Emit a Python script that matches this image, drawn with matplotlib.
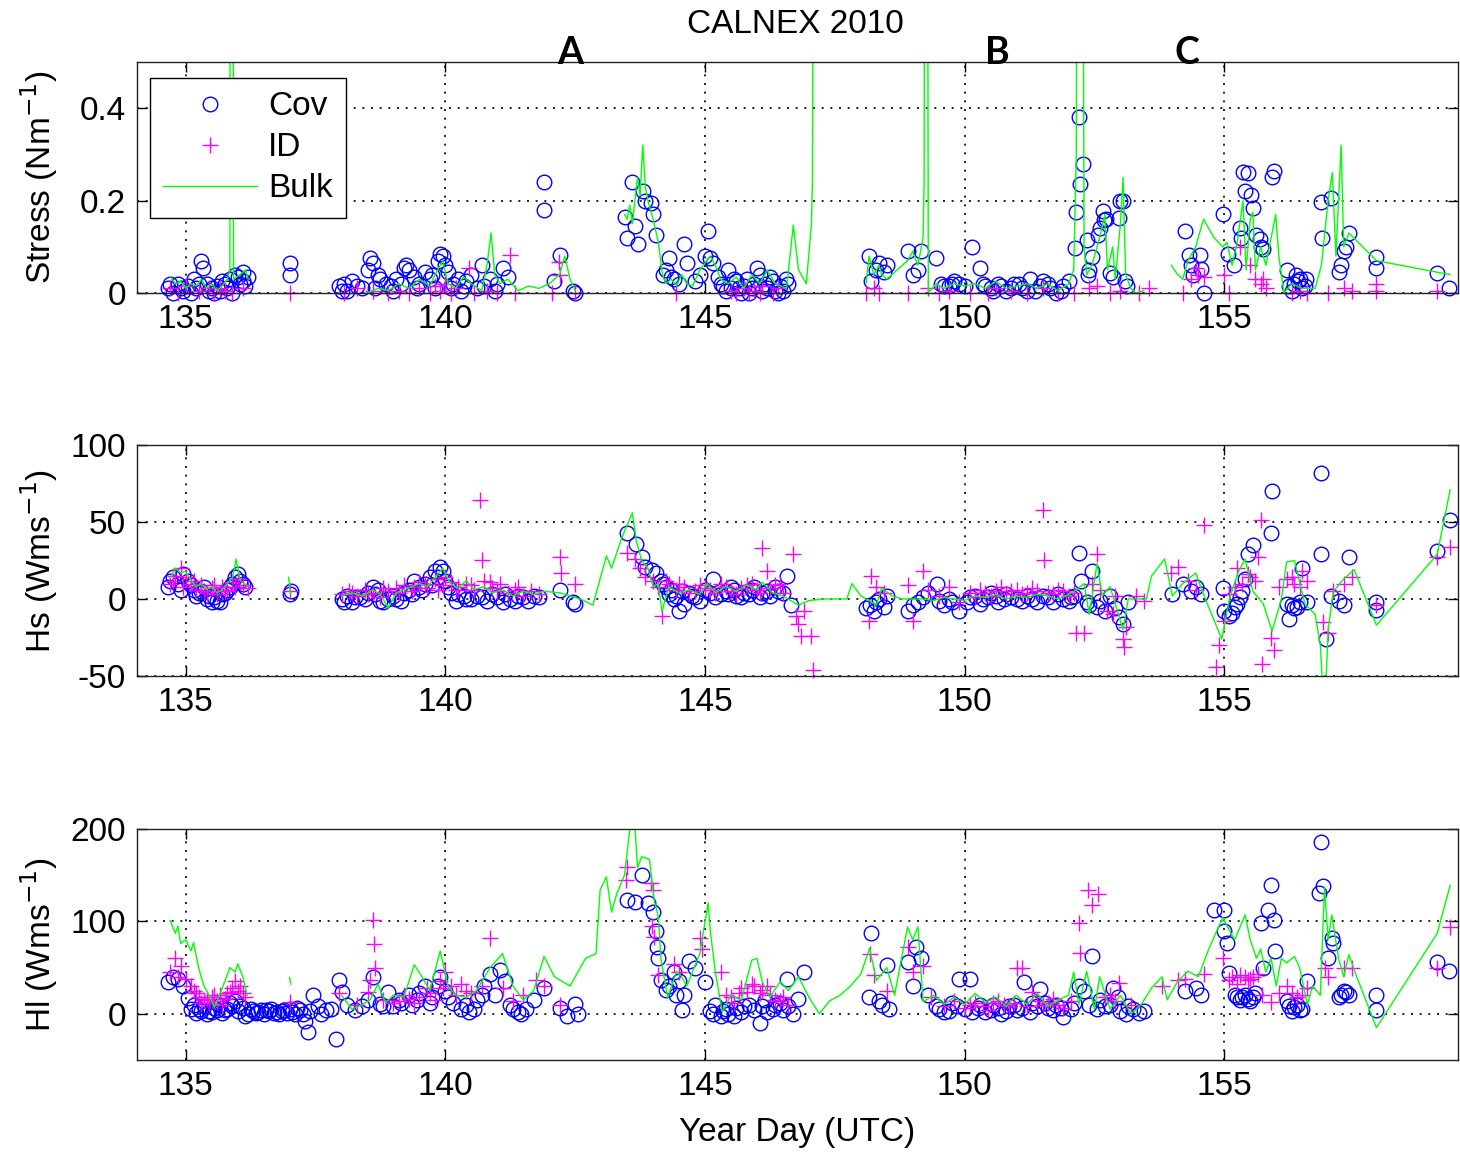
import numpy as np
import matplotlib
matplotlib.use("Agg")
import matplotlib.pyplot as plt

plt.rcParams['font.family'] = ['Liberation Sans', 'DejaVu Sans']

GAP = (np.nan, np.nan)

# ---- Stress panel (day, N m-1) ----
stress_cov = [
    (134.65, 0.01), (134.75, 0.0), (134.85, 0.02), (134.95, 0.005), (135.05, 0.015), (135.15, 0.03),
    (135.2, 0.01), (135.3, 0.07), (135.33, 0.055), (135.4, 0.02), (135.45, 0.005), (135.55, 0.0),
    (135.6, 0.015), (135.7, 0.025), (135.8, 0.01), (135.85, 0.03), (135.95, 0.04), (136.0, 0.035),
    (136.05, 0.02), (136.1, 0.045), (136.15, 0.015), (137.0, 0.065), (137.0, 0.04),
    (134.7, 0.02), (134.9, 0.01), (135.1, 0.0), (135.25, 0.02), (135.5, 0.01), (135.65, 0.005),
    (135.75, 0.02), (135.9, 0.0), (136.1, 0.025), (136.2, 0.035),
    (137.95, 0.015), (138.05, 0.02), (138.1, 0.005), (138.2, 0.025), (138.4, 0.01), (138.5, 0.05),
    (138.55, 0.075), (138.6, 0.065), (138.7, 0.04), (138.75, 0.03), (138.85, 0.02), (138.95, 0.015),
    (139.05, 0.03), (139.2, 0.055), (139.25, 0.06), (139.3, 0.05), (139.4, 0.035), (139.5, 0.02),
    (139.6, 0.045), (139.7, 0.03), (139.8, 0.01), (139.85, 0.07), (139.9, 0.085), (139.95, 0.08),
    (140.0, 0.06), (140.05, 0.045), (140.15, 0.02), (140.25, 0.03), (140.35, 0.015), (140.5, 0.04),
    (140.6, 0.01), (140.7, 0.06), (140.85, 0.03), (140.95, 0.005), (141.1, 0.055), (141.2, 0.035),
    (138.0, 0.005), (138.3, 0.015), (138.65, 0.01), (139.0, 0.005), (139.15, 0.02), (139.45, 0.01),
    (139.75, 0.04), (140.1, 0.01), (140.3, 0.005), (140.4, 0.025), (140.75, 0.015), (141.0, 0.02),
    (141.9, 0.24), (141.9, 0.18), (142.1, 0.025), (142.2, 0.082), (142.45, 0.005), (142.5, 0.0),
    (143.45, 0.165), (143.5, 0.12), (143.6, 0.24), (143.65, 0.145), (143.7, 0.105), (143.8, 0.22),
    (143.85, 0.2), (143.95, 0.195), (144.0, 0.17), (144.05, 0.125),
    (144.2, 0.04), (144.25, 0.05), (144.3, 0.075), (144.35, 0.035), (144.4, 0.03), (144.5, 0.02),
    (144.6, 0.105), (144.65, 0.065), (144.8, 0.025), (144.9, 0.04), (145.0, 0.08), (145.05, 0.135),
    (145.1, 0.075), (145.15, 0.065), (145.25, 0.035), (145.35, 0.015), (145.45, 0.05), (145.5, 0.01),
    (145.6, 0.025), (145.7, 0.0), (145.8, 0.03), (145.9, 0.01), (146.0, 0.055), (146.05, 0.04),
    (146.15, 0.02), (146.25, 0.035), (146.35, 0.005), (146.45, 0.015), (146.55, 0.03), (146.6, 0.02),
    (145.3, 0.02), (145.4, 0.005), (145.55, 0.03), (145.65, 0.01), (145.75, 0.015), (145.85, 0.0),
    (145.95, 0.02), (146.1, 0.005), (146.2, 0.01), (146.3, 0.025), (146.4, 0.0), (146.5, 0.005),
    (148.15, 0.08), (148.2, 0.025), (148.3, 0.05), (148.35, 0.065), (148.45, 0.045), (148.5, 0.06),
    (148.9, 0.09), (149.0, 0.04), (149.1, 0.05), (149.15, 0.09), (149.45, 0.075), (149.55, 0.02),
    (149.7, 0.015), (149.8, 0.025), (149.9, 0.02), (150.0, 0.015), (150.15, 0.1), (150.3, 0.055),
    (150.35, 0.02), (150.5, 0.01), (150.65, 0.02), (150.8, 0.005), (150.95, 0.02), (151.1, 0.01),
    (151.25, 0.03), (151.35, 0.005), (151.45, 0.015), (151.6, 0.02), (151.75, 0.0), (151.9, 0.015),
    (152.0, 0.025), (149.6, 0.015), (149.75, 0.02), (150.4, 0.015), (150.55, 0.005), (150.7, 0.015),
    (150.9, 0.01), (151.05, 0.02), (151.2, 0.005), (151.5, 0.025), (151.65, 0.01), (151.85, 0.005),
    (152.13, 0.097), (152.15, 0.175), (152.2, 0.38), (152.23, 0.235), (152.27, 0.28),
    (152.35, 0.115), (152.37, 0.04), (152.4, 0.05), (152.46, 0.078), (152.56, 0.125), (152.6, 0.14),
    (152.66, 0.178), (152.68, 0.158), (152.72, 0.16), (152.79, 0.043), (152.85, 0.035), (152.97, 0.163),
    (152.99, 0.2), (153.05, 0.2), (153.08, 0.025), (153.12, 0.015),
    (154.24, 0.135), (154.33, 0.082), (154.36, 0.06), (154.4, 0.04), (154.53, 0.082), (154.56, 0.052),
    (154.6, 0.0), (154.97, 0.17), (155.07, 0.085), (155.18, 0.06), (155.3, 0.14), (155.32, 0.12),
    (155.36, 0.262), (155.45, 0.26), (155.4, 0.22), (155.52, 0.213), (155.55, 0.184), (155.62, 0.125),
    (155.68, 0.116), (155.74, 0.096), (155.7, 0.1), (155.95, 0.264), (155.92, 0.25), (156.21, 0.05),
    (156.25, 0.015), (156.38, 0.04), (156.45, 0.03), (156.58, 0.03), (156.5, 0.01), (156.3, 0.005),
    (156.35, 0.02), (156.42, 0.025), (156.55, 0.015),
    (156.87, 0.197), (156.88, 0.12), (157.06, 0.205), (157.2, 0.045), (157.25, 0.06), (157.3, 0.09),
    (157.35, 0.1), (157.4, 0.13), (157.93, 0.078), (157.93, 0.055), (159.1, 0.043), (159.32, 0.01),
]
stress_id = [
    (134.7, 0.01), (134.85, 0.0), (135.0, 0.015), (135.25, 0.005), (135.45, 0.01), (135.55, 0.0),
    (135.65, 0.01), (135.75, 0.005), (135.9, 0.0), (136.1, 0.01), (137.0, 0.0), (138.05, 0.0),
    (138.3, 0.01), (138.6, 0.005), (138.9, 0.0), (139.1, 0.005), (139.3, 0.0), (139.5, 0.01),
    (139.7, 0.0), (139.8, 0.015), (139.9, 0.005), (140.0, 0.02), (140.1, 0.0), (140.2, 0.01),
    (140.45, 0.054), (140.55, 0.0), (140.8, 0.005), (141.0, 0.0), (141.24, 0.082), (141.35, 0.0),
    (142.05, 0.0), (142.18, 0.067), (142.2, 0.04), (142.5, 0.0), (144.45, 0.0), (145.5, 0.005),
    (145.6, 0.0), (145.75, 0.01), (145.85, 0.0), (145.95, 0.005), (146.05, 0.0), (146.1, 0.015),
    (146.3, 0.0), (146.4, 0.01), (148.1, 0.0), (148.25, 0.01), (148.35, 0.0), (148.9, 0.0),
    (149.3, 0.01), (149.5, 0.0), (149.7, 0.005), (150.1, 0.0), (150.45, 0.0), (150.6, 0.01),
    (150.9, 0.005), (151.2, 0.0), (151.5, 0.01), (151.8, 0.0), (152.1, 0.0), (152.4, 0.01),
    (152.55, 0.015), (152.8, 0.0), (153.0, 0.005), (153.35, 0.0), (153.55, 0.01), (154.2, 0.0),
    (154.35, 0.03), (154.45, 0.055), (154.5, 0.04), (154.6, 0.035), (155.0, 0.04), (155.1, 0.0),
    (155.3, 0.1), (155.5, 0.06), (155.6, 0.03), (155.7, 0.02), (155.75, 0.03), (155.8, 0.01),
    (156.3, 0.0), (156.45, 0.005), (156.6, 0.0), (157.0, 0.0), (157.3, 0.01), (157.45, 0.005),
    (157.93, 0.005), (157.93, 0.02), (159.1, 0.005),
]
stress_bulk = [
    (134.7, 0.035), (134.8, 0.02), (134.9, 0.025), (135.0, 0.01), (135.1, 0.02), (135.2, 0.015),
    (135.3, 0.03), (135.4, 0.01), (135.5, 0.02), (135.6, 0.005), (135.7, 0.015), (135.8, 0.03),
    (135.85, 0.05), (135.86, 2.0), (135.9, 2.0), (135.92, 0.03), (136.05, 0.04), (136.15, 0.05),
    (136.2, 0.03), GAP,
    (138.5, 0.0), (138.7, 0.01), (138.9, 0.005), (139.1, 0.02), (139.3, 0.01), (139.5, 0.03),
    (139.7, 0.015), (139.8, 0.04), (139.95, 0.07), (140.05, 0.02), (140.2, 0.01), (140.35, 0.035),
    (140.5, 0.02), (140.7, 0.005), (140.8, 0.06), (140.88, 0.13), (140.95, 0.04), (141.05, 0.02),
    (141.2, 0.03), (141.4, 0.005), (141.6, 0.015), (141.8, 0.01), (142.0, 0.02), (142.2, 0.04),
    (142.3, 0.08), (142.4, 0.03), (142.5, 0.005), GAP,
    (143.45, 0.17), (143.5, 0.16), (143.55, 0.19), (143.6, 0.15), (143.7, 0.25), (143.75, 0.21),
    (143.8, 0.32), (143.85, 0.23), (143.9, 0.2), (144.0, 0.16), (144.1, 0.11), (144.18, 0.04),
    (144.25, 0.02), (144.35, 0.03), (144.45, 0.015), (144.55, 0.04), (144.65, 0.02), (144.76, 0.015),
    (144.9, 0.05), (145.1, 0.08), (145.2, 0.06), (145.3, 0.03), (145.45, 0.02), (145.6, 0.035),
    (145.75, 0.01), (145.9, 0.04), (146.05, 0.02), (146.2, 0.05), (146.35, 0.02), (146.57, 0.01),
    (146.7, 0.147), (146.8, 0.05), (146.95, 0.02), (147.05, 0.15), (147.07, 0.25), (147.1, 2.0), GAP,
    (148.1, 0.02), (148.16, 0.08), (148.25, 0.04), (148.35, 0.06), (148.4, 0.04), (148.5, 0.03),
    (148.7, 0.05), (148.9, 0.07), (149.0, 0.09), (149.1, 0.06), (149.2, 0.12), (149.22, 0.25),
    (149.24, 2.0), (149.27, 2.0), (149.3, 0.0), (149.45, 0.02), (149.6, 0.01), (149.8, 0.02),
    (150.0, 0.015), (150.2, 0.02), (150.4, 0.01), (150.6, 0.025), (150.8, 0.01), (151.0, 0.015),
    (151.2, 0.02), (151.4, 0.01), (151.6, 0.02), (151.8, 0.005), (152.0, 0.02), (152.1, 0.05),
    (152.15, 0.3), (152.18, 2.0), (152.25, 2.0), (152.3, 0.1), (152.35, 0.04), (152.45, 0.06),
    (152.55, 0.1), (152.6, 0.12), (152.7, 0.17), (152.75, 0.05), (152.85, 0.1), (152.9, 0.03),
    (153.0, 0.15), (153.05, 0.25), (153.1, 0.04), (153.2, 0.01), (153.3, 0.0), (153.45, 0.005), GAP,
    (153.98, 0.06), (154.1, 0.04), (154.2, 0.03), (154.3, 0.07), (154.45, 0.1), (154.6, 0.16),
    (154.8, 0.12), (154.97, 0.1), (155.05, 0.11), (155.15, 0.06), (155.25, 0.11), (155.36, 0.2),
    (155.42, 0.05), (155.5, 0.16), (155.55, 0.175), (155.6, 0.05), (155.7, 0.1), (155.8, 0.06),
    (155.99, 0.17), (156.05, 0.08), (156.15, 0.0), (156.3, 0.02), (156.5, 0.01), (156.75, 0.01),
    (156.87, 0.06), (157.0, 0.2), (157.08, 0.26), (157.15, 0.08), (157.25, 0.32), (157.3, 0.1),
    (157.4, 0.13), (157.93, 0.07), (159.1, 0.045), (159.35, 0.04),
]

# ---- Sensible heat panel (day, W m-2) ----
hs_cov = [
    (134.65, 8), (134.75, 14), (134.85, 10), (134.95, 16), (135.05, 12), (135.15, 6), (135.25, 4),
    (135.35, 8), (135.45, 2), (135.5, -2), (135.6, -1), (135.7, 3), (135.8, 6), (135.9, 10),
    (135.95, 14), (136.0, 16), (136.05, 12), (136.15, 8), (137.0, 3), (137.02, 5),
    (134.7, 12), (134.9, 6), (135.1, 9), (135.2, 2), (135.3, 5), (135.4, 0), (135.55, 1),
    (135.65, -2), (135.75, 4), (135.85, 8), (136.1, 10),
    (138.0, 0), (138.1, 2), (138.2, -2), (138.35, 1), (138.5, 4), (138.6, 8), (138.7, 6),
    (138.8, -2), (138.9, 0), (139.0, 2), (139.15, -1), (139.3, 6), (139.4, 12), (139.5, 8),
    (139.6, 10), (139.7, 14), (139.8, 18), (139.9, 21), (139.95, 18), (140.0, 12), (140.1, 4),
    (140.2, -1), (140.35, 2), (140.5, 0), (140.7, 1), (140.9, 3), (141.1, -2), (141.25, 0),
    (141.4, 2), (141.6, -1), (141.8, 1), (142.2, 6), (142.45, -2), (142.5, -3),
    (138.05, -2), (138.25, 1), (138.45, 0), (138.65, 3), (138.75, -1), (139.05, 0), (139.2, 4),
    (139.35, 3), (139.55, 6), (139.75, 9), (139.85, 14), (140.05, 8), (140.25, 3), (140.4, 0),
    (140.6, 2), (140.8, -1), (141.0, 1), (141.15, 3), (141.35, -1), (141.5, 1), (141.7, 2),
    (143.5, 43), (143.68, 36), (143.78, 27), (143.84, 21), (143.97, 19), (144.05, 17), (144.15, 12),
    (144.25, 8), (144.35, 6), (144.45, 2), (144.6, -3), (144.5, -8), (144.7, 4), (144.8, 1),
    (145.0, 6), (145.15, 13), (145.3, 3), (145.4, 5), (145.5, 8), (145.6, 2), (145.75, 4),
    (145.9, 6), (146.05, 1), (146.2, 5), (146.35, 8), (146.57, 15), (146.5, 4), (146.65, -4),
    (144.2, 10), (144.3, 3), (144.4, 0), (144.55, 5), (144.75, 2), (144.9, -1), (145.1, 4),
    (145.2, 1), (145.45, 3), (145.55, 6), (145.7, 1), (145.85, 3), (145.95, 8), (146.1, 4),
    (146.25, 2), (146.4, 5),
    (148.1, -6), (148.17, -4), (148.25, -8), (148.35, 0), (148.5, 2), (148.9, -8), (149.1, -2),
    (149.3, 4), (149.46, 10), (149.6, -4), (149.75, -2), (149.9, -8), (150.05, -2), (150.2, 2),
    (150.35, 0), (150.5, 4), (150.65, -2), (150.8, 3), (151.0, 0), (151.2, 2), (151.4, -2),
    (151.6, 1), (151.8, 3), (152.0, -1), (152.1, 2), (152.2, 30), (152.25, 12), (152.35, -2),
    (152.45, 18), (152.55, -5), (152.7, -8), (152.8, 2), (152.98, -12), (153.05, -16), (153.15, -2),
    (148.3, -2), (148.45, -5), (149.0, -4), (149.2, 1), (149.5, -1), (149.7, 0), (150.1, 1),
    (150.3, -3), (150.45, 1), (150.6, 2), (150.75, 0), (150.9, 1), (151.1, -1), (151.3, 0),
    (151.5, 2), (151.7, -2), (151.9, 0), (152.05, 1), (152.4, -4), (152.6, -1), (152.9, -6),
    (154.0, 3), (154.2, 10), (154.35, 5), (154.45, 8), (154.55, 3), (154.97, 7), (155.0, -8),
    (155.1, -11), (155.2, -5), (155.3, 1), (155.4, 13), (155.45, 29), (155.55, 35), (155.9, 43),
    (155.92, 70), (156.2, -3), (156.25, -13), (156.35, -6), (156.5, 20), (156.6, -2), (156.87, 82),
    (156.87, 29), (156.95, -26), (157.05, 2), (157.2, -1), (157.3, -4), (157.4, 27), (157.93, -2),
    (157.93, -7), (159.1, 31), (159.35, 51), (155.15, -9), (155.25, -3), (155.35, 5), (156.3, -4),
    (156.4, -5), (156.45, -2),
]
hs_id = [
    (134.7, 10), (134.8, 15), (134.9, 20), (135.0, 14), (135.1, 10), (135.2, 6), (135.3, 9),
    (135.4, 4), (135.5, 7), (135.6, 3), (135.7, 8), (135.8, 5), (135.9, 11), (136.0, 13),
    (136.1, 9), (136.2, 7), (137.0, 5), (138.0, 3), (138.15, 5), (138.3, 2), (138.45, 6),
    (138.6, 4), (138.75, 1), (138.9, 5), (139.05, 7), (139.2, 9), (139.35, 5), (139.5, 11),
    (139.65, 7), (139.8, 13), (139.95, 9), (140.1, 11), (140.25, 8), (140.4, 10), (140.55, 6),
    (140.66, 64), (140.7, 25), (140.75, 12), (140.9, 7), (141.05, 10), (141.2, 4), (141.35, 6),
    (141.5, 2), (141.65, 5), (141.8, 3), (142.2, 27), (142.22, 17), (142.5, 10),
    (134.75, 12), (134.95, 8), (135.15, 12), (135.35, 5), (135.55, 9), (135.75, 6), (135.95, 8),
    (138.2, 4), (138.5, 3), (138.8, 7), (139.1, 4), (139.4, 8), (139.6, 10), (139.85, 6),
    (140.0, 14), (140.2, 6), (140.5, 9), (140.85, 11), (141.0, 5), (141.4, 8),
    (143.5, 30), (143.65, 26), (143.75, 20), (143.85, 14), (144.0, 12), (144.17, -11), (144.3, 10),
    (144.45, 6), (144.6, 8), (144.8, 5), (145.0, 7), (145.2, 4), (145.4, 8), (145.6, 3),
    (145.8, 9), (146.0, 6), (146.1, 33), (146.2, 18), (146.35, 9), (146.5, 4), (146.7, 29),
    (146.75, -11), (146.8, -16), (146.85, -24), (147.05, -24), (147.07, -46), (146.9, -8),
    (144.1, 8), (144.25, 12), (144.5, 10), (144.7, 4), (144.9, 9), (145.1, 6), (145.3, 10),
    (145.5, 5), (145.7, 7), (145.9, 10), (146.05, 4), (146.25, 7), (146.45, 10),
    (148.2, 15), (148.15, -14), (148.3, 8), (148.45, 4), (148.9, 9), (149.0, -14), (149.2, 18),
    (149.3, 6), (149.5, 2), (149.7, 8), (149.9, -2), (150.1, 4), (150.3, 6), (150.5, 2),
    (150.7, 8), (150.9, 5), (151.1, 3), (151.3, 7), (151.5, 58), (151.52, 25), (151.6, 4),
    (151.8, 6), (152.0, 2), (152.15, -22), (152.3, -22), (152.54, 29), (152.6, 6), (152.75, -8),
    (152.9, 2), (153.05, -26), (153.07, -31), (153.1, -18), (153.3, 2), (153.45, -1),
    (150.2, 1), (150.4, 4), (150.6, 5), (150.8, 3), (151.0, 6), (151.2, 4), (151.4, 5),
    (151.7, 3), (151.9, 5), (152.1, 4), (152.45, 10), (152.85, -10),
    (153.98, 17), (154.1, 21), (154.3, 12), (154.45, 6), (154.6, 48), (154.9, -30), (154.85, -44),
    (155.0, -14), (155.1, 3), (155.25, 20), (155.35, 10), (155.5, 14), (155.7, 51), (155.65, 27),
    (155.73, -42), (155.95, -33), (155.9, -25), (156.05, 8), (156.2, 13), (156.35, 10), (156.5, 18),
    (156.6, 12), (156.9, -15), (157.0, -22), (157.1, 5), (157.3, 10), (157.45, 14), (157.93, -4),
    (159.1, 27), (159.35, 34), (155.2, 8), (155.45, 16), (155.6, 12), (156.3, 14), (156.45, 8),
]
hs_bulk = [
    (134.7, 14), (134.8, 20), (134.9, 17), (135.0, 18), (135.1, 12), (135.2, 8), (135.3, 10),
    (135.4, 6), (135.5, 8), (135.6, 4), (135.7, 6), (135.8, 10), (135.9, 14), (135.97, 26),
    (136.05, 12), (136.2, 8), GAP, (136.98, 14), (137.02, 3), GAP,
    (138.0, 2), (138.2, 4), (138.4, 2), (138.6, 6), (138.75, 3), (138.9, -6), (139.05, 4),
    (139.2, 6), (139.35, 8), (139.5, 10), (139.65, 8), (139.8, 14), (139.95, 20), (140.0, 16),
    (140.1, 10), (140.25, 7), (140.4, 12), (140.55, 6), (140.75, 8), (140.9, 4), (141.1, 6),
    (141.3, 2), (141.5, 5), (141.7, 3), (141.9, 5), (142.2, 4), (142.4, 2), (142.6, 0),
    (142.84, -4), (143.1, 28), (143.2, 20), (143.4, 40), (143.6, 56), (143.68, 37), (143.78, 25),
    (143.9, 20), (144.0, 8), (144.1, 10), (144.17, -8), (144.3, 8), (144.5, 4), (144.7, 6),
    (144.9, 3), (145.04, 10), (145.2, 4), (145.4, 8), (145.6, 5), (145.8, 9), (146.0, 6),
    (146.1, 11), (146.3, 4), (146.5, 2), (146.8, -4), (147.0, -1), (147.3, 0), (147.5, 0),
    (147.73, 0), (147.83, 10), (148.0, 2), (148.1, 0), (148.3, -4), (148.4, 7), (148.6, 2),
    (148.8, 0), (149.0, 0), (149.2, 0), (149.4, -1), (149.6, 1), (149.8, 0), (150.0, -1),
    (150.2, 2), (150.4, 1), (150.6, 3), (150.8, 0), (151.0, 2), (151.2, 1), (151.4, 3),
    (151.6, 2), (151.8, 0), (152.0, 3), (152.15, 6), (152.3, 10), (152.4, -10), (152.55, 23),
    (152.65, 2), (152.8, 8), (153.05, -20), (153.15, 0), (153.3, 0), (153.5, 0), (153.6, 15),
    (153.85, 26), (154.0, 2), (154.2, 10), (154.45, 17), (154.6, 3), (154.95, -26), (155.1, 0),
    (155.25, 16), (155.4, 26), (155.55, 5), (155.75, -3), (155.92, -21), (156.1, 0), (156.2, 24),
    (156.35, 25), (156.55, -3), (156.75, -10), (156.85, -30), (156.9, -60), (156.95, -60),
    (157.0, -20), (157.1, 5), (157.3, 13), (157.5, 19), (157.93, -17), (159.1, 29), (159.35, 71),
]

# ---- Latent heat panel (day, W m-2) ----
hl_cov = [
    (134.65, 34), (134.75, 40), (134.85, 38), (134.95, 30), (135.05, 17), (135.15, 10), (135.25, 5),
    (135.35, 8), (135.45, 3), (135.55, 6), (135.65, 10), (135.75, 4), (135.85, 12), (135.95, 14),
    (136.05, 8), (136.15, -2), (136.25, 5), (136.4, 2), (136.55, 4), (136.7, 1), (136.85, 3),
    (137.0, 5), (137.1, 0), (137.2, 4), (137.3, -8), (137.35, -20), (137.45, 20), (137.55, 8),
    (137.7, 4), (137.9, -27), (137.95, 36), (138.0, 24), (138.1, 10), (138.25, 4), (138.4, 8),
    (135.1, 5), (135.2, 1), (135.3, 3), (135.4, 0), (135.5, 2), (135.6, 4), (135.7, 1),
    (135.8, 5), (135.9, 8), (136.0, 3), (136.1, 6), (136.2, 0), (136.3, 3), (136.35, 1),
    (136.45, 4), (136.5, 0), (136.6, 3), (136.65, 5), (136.75, 2), (136.8, 0), (136.9, 4),
    (136.95, 1), (137.05, 2), (137.15, 6), (137.25, 0), (137.4, 3), (137.6, 0), (137.8, 5),
    (138.6, 40), (138.75, 11), (138.9, 23), (139.0, 8), (139.15, 12), (139.3, 20), (139.45, 15),
    (139.6, 30), (139.75, 18), (139.9, 40), (140.0, 25), (140.15, 12), (140.3, 5), (140.45, 2),
    (140.6, 15), (140.75, 30), (140.86, 43), (140.95, 20), (141.05, 47), (141.15, 35), (141.25, 10),
    (141.4, 2), (141.55, 5), (141.7, 15), (141.9, 28), (142.2, 6), (142.35, -2), (142.5, 11),
    (142.55, 0), (138.5, 15), (138.8, 8), (139.1, 15), (139.35, 10), (139.5, 22), (139.7, 12),
    (139.85, 30), (140.05, 18), (140.4, 10), (140.55, 5), (140.7, 20), (141.3, 5), (141.45, 0),
    (143.5, 123), (143.65, 121), (143.78, 150), (143.9, 120), (144.0, 110), (144.05, 89), (144.08, 72),
    (144.1, 60), (144.15, 37), (144.25, 26), (144.4, 45), (144.55, 4), (144.6, 20), (144.7, 57),
    (144.8, 50), (145.0, 34), (145.1, 3), (145.2, 10), (145.3, -2), (145.4, 5), (145.55, -2),
    (145.75, 8), (146.05, -10), (146.15, 15), (146.3, 5), (146.45, 12), (146.57, 38), (146.7, 0),
    (146.9, 45), (146.8, 16), (144.3, 30), (144.45, 20), (144.5, 35), (145.15, 0), (145.35, 3),
    (145.45, 0), (145.6, 6), (145.7, 2), (145.85, 10), (145.95, 4), (146.1, 8), (146.2, 2),
    (146.35, 10), (146.5, 4), (146.6, 8),
    (148.2, 87), (148.15, 18), (148.35, 14), (148.4, 10), (148.5, 53), (148.55, 5), (148.9, 56),
    (149.07, 72), (149.15, 60), (149.0, 30), (149.3, 20), (149.45, 8), (149.6, 2), (149.75, 12),
    (149.9, 38), (150.1, 38), (150.25, 6), (150.4, 2), (150.55, 10), (150.7, 0), (150.85, 8),
    (151.0, 4), (151.15, 34), (151.3, 12), (151.45, 27), (151.6, 6), (151.75, 10), (151.9, -3),
    (152.05, 5), (152.2, 30), (152.3, 25), (152.46, 63), (152.6, 15), (152.7, 8), (152.85, 28),
    (153.0, 3), (153.1, 0), (153.25, 5), (153.45, 3), (149.5, 5), (149.7, 3), (149.85, 8),
    (150.0, 5), (150.15, 2), (150.3, 10), (150.5, 4), (150.65, 6), (150.8, 3), (150.95, 10),
    (151.1, 6), (151.25, 2), (151.4, 8), (151.55, 12), (151.7, 4), (151.85, 6), (152.1, 12),
    (152.4, 10), (152.55, 5), (152.8, 10), (152.95, 18), (153.15, 8), (153.35, 1),
    (154.25, 25), (154.45, 28), (154.55, 20), (154.8, 112), (155.0, 112), (155.0, 90), (155.05, 77),
    (155.1, 44), (155.25, 18), (155.35, 18), (155.5, 14), (155.6, 22), (155.9, 139), (155.85, 112),
    (155.7, 98), (155.95, 101), (155.98, 68), (155.75, 50), (156.2, 14), (156.35, 7), (156.45, 4),
    (156.6, 35), (156.87, 186), (156.9, 138), (156.82, 131), (157.07, 82), (157.1, 77), (157.0, 60),
    (157.2, 18), (157.3, 25), (157.4, 20), (157.93, 20), (157.93, 4), (159.1, 56), (159.32, 46),
    (155.2, 20), (155.3, 15), (155.4, 20), (155.45, 16), (155.55, 18), (156.25, 8), (156.3, 3),
    (156.4, 10), (156.5, 5), (157.25, 20), (157.35, 24),
]
hl_id = [
    (134.7, 45), (134.8, 60), (134.85, 40), (134.9, 52), (135.0, 38), (135.1, 30), (135.2, 22),
    (135.3, 12), (135.4, 16), (135.55, 20), (135.7, 10), (135.85, 24), (135.95, 35), (136.05, 30),
    (136.15, 18), (137.0, 13), (137.95, 22), (138.3, 10), (138.5, 24), (138.55, 37), (138.6, 101),
    (138.62, 76), (138.65, 50), (138.8, 15), (139.0, 12), (139.2, 20), (139.4, 12), (139.65, 28),
    (139.8, 15), (139.9, 35), (140.0, 45), (140.2, 20), (140.4, 25), (140.86, 82), (141.1, 28),
    (141.3, 14), (141.5, 20), (141.75, 36), (141.9, 30), (142.2, 10),
    (135.15, 25), (135.25, 18), (135.35, 15), (135.45, 12), (135.5, 18), (135.6, 14), (135.65, 20),
    (135.75, 16), (135.8, 22), (135.9, 28), (136.0, 25), (136.1, 22), (139.1, 14), (139.3, 16),
    (139.5, 18), (139.7, 22), (139.95, 28), (140.1, 30), (140.3, 32), (140.5, 22), (140.7, 30),
    (143.5, 159), (143.48, 145), (143.95, 141), (144.0, 134), (143.98, 95), (144.02, 83), (144.1, 42),
    (144.4, 54), (144.5, 45), (144.9, 82), (144.95, 70), (145.3, 45), (145.4, 20), (145.55, 12),
    (145.7, 28), (145.9, 32), (146.05, 22), (146.2, 30), (146.35, 15), (146.5, 18), (146.6, 10),
    (145.5, 18), (145.65, 22), (145.8, 24), (145.95, 30), (146.1, 26), (146.25, 20), (146.45, 14),
    (148.17, 65), (148.25, 42), (148.5, 25), (148.9, 72), (149.0, 45), (149.2, 52), (149.35, 18),
    (149.6, 8), (149.8, 14), (150.0, 6), (150.2, 12), (150.45, 4), (150.65, 14), (150.85, 8),
    (151.0, 50), (151.1, 50), (151.3, 23), (151.5, 10), (151.7, 16), (151.9, 6), (152.2, 98),
    (152.22, 66), (152.37, 134), (152.46, 118), (152.56, 130), (152.7, 18), (152.98, 33), (153.2, 10),
    (150.1, 10), (150.35, 8), (150.55, 12), (150.75, 10), (150.95, 12), (151.2, 8), (151.4, 14),
    (151.6, 12), (151.8, 10), (152.05, 14), (152.8, 20), (152.9, 14),
    (153.8, 30), (154.1, 36), (154.25, 38), (154.6, 43), (154.97, 60), (155.1, 36), (155.25, 32),
    (155.4, 40), (155.5, 38), (155.65, 43), (155.72, 20), (155.9, 13), (156.05, 22), (156.2, 30),
    (156.4, 18), (156.6, 28), (156.93, 49), (157.0, 40), (157.3, 50), (157.45, 50), (159.1, 50),
    (159.35, 94), (155.15, 40), (155.3, 42), (155.45, 36), (155.55, 40), (156.3, 22), (156.5, 20),
]
hl_bulk = [
    (134.7, 101), (134.8, 87), (134.85, 95), (134.9, 76), (135.0, 80), (135.1, 68), (135.15, 77),
    (135.25, 49), (135.35, 30), (135.45, 20), (135.55, 7), (135.65, 20), (135.75, 35), (135.85, 50),
    (135.95, 45), (136.0, 54), (136.1, 40), (136.18, 20), GAP, (137.0, 39), (137.02, 32), GAP,
    (138.0, 20), (138.2, 5), (138.4, 10), (138.55, 15), (138.7, 32), (138.85, 12), (139.0, 20),
    (139.2, 18), (139.4, 53), (139.55, 40), (139.7, 25), (139.9, 68), (140.05, 30), (140.2, 20),
    (140.4, 18), (140.6, 25), (140.86, 50), (141.1, 65), (141.3, 30), (141.5, 15), (141.7, 25),
    (141.9, 62), (142.1, 40), (142.4, 30), (142.7, 60), (142.9, 65), (142.98, 134), (143.1, 148),
    (143.2, 110), (143.3, 130), (143.45, 150), (143.55, 199), (143.62, 230), (143.7, 158),
    (143.78, 170), (143.93, 167), (144.02, 123), (144.1, 105), (144.15, 60), (144.28, 17),
    (144.45, 46), (144.55, 40), (144.65, 30), (144.9, 65), (145.06, 120), (145.1, 90), (145.2, 45),
    (145.33, 2), (145.5, 20), (145.7, 15), (145.9, 58), (146.0, 60), (146.1, 35), (146.25, 18),
    (146.45, 35), (146.6, 25), (146.8, 40), (147.0, 18), (147.2, 0), (147.4, 14), (147.6, 20),
    (147.8, 30), (148.0, 43), (148.17, 71), (148.3, 36), (148.5, 50), (148.65, 20), (148.9, 94),
    (149.0, 80), (149.1, 94), (149.2, 13), (149.4, 20), (149.6, 10), (149.8, 18), (150.0, 10),
    (150.2, 22), (150.4, 12), (150.6, 18), (150.8, 8), (151.0, 20), (151.2, 10), (151.4, 22),
    (151.6, 8), (151.8, 15), (152.0, 20), (152.1, 45), (152.2, 10), (152.35, 46), (152.5, 5),
    (152.6, 40), (152.8, 5), (153.0, 20), (153.2, 0), (153.4, 10), (153.6, 28), (153.8, 40),
    (153.9, 15), (154.1, 35), (154.3, 46), (154.5, 40), (154.7, 70), (154.97, 104), (155.1, 90),
    (155.2, 80), (155.4, 107), (155.5, 80), (155.62, 60), (155.7, 70), (155.8, 45), (155.9, 60),
    (156.0, 30), (156.1, 60), (156.2, 55), (156.35, 62), (156.45, 50), (156.6, 10), (156.7, 30),
    (156.85, 20), (156.93, 137), (157.0, 80), (157.07, 107), (157.2, 60), (157.3, 40), (157.4, 64),
    (157.55, 40), (157.93, -15), (159.1, 87), (159.35, 139),
]

xticks = [135, 140, 145, 150, 155]
panel_ylim = [(0, 0.5), (-50, 100), (-50, 200)]
panel_yticks = [[0, 0.2, 0.4], [-50, 0, 50, 100], [0, 100, 200]]
panel_ytick_labels = [['0', '0.2', '0.4'], ['-50', '0', '50', '100'], ['0', '100', '200']]
panel_ylabels = ['Stress (Nm$^{-1}$)', 'Hs (Wms$^{-1}$)', 'Hl (Wms$^{-1}$)']
event_letters = ['A', 'B', 'C']
event_days = [142.4, 150.63, 154.29]

fig = plt.figure(figsize=(14.6, 11.54), dpi=100)
left, width, height = 0.0938, 0.9048, 0.2002
bottoms = [0.7461, 0.4142, 0.0815]
axes = [fig.add_axes([left, b, width, height]) for b in bottoms]


def draw(ax, cov, ident, bulk):
    cx, cy = zip(*cov)
    ix, iy = zip(*ident)
    bx, by = zip(*bulk)
    ax.plot(cx, cy, 'o', mfc='none', mec='#0000ff', ms=10.5, mew=1.0, clip_on=False, label='Cov')
    ax.plot(ix, iy, '+', color='#ff00ff', ms=12, mew=1.0, clip_on=False, label='ID')
    ax.plot(bx, by, '-', color='#00ff00', lw=1.0, label='Bulk')


series = [(stress_cov, stress_id, stress_bulk), (hs_cov, hs_id, hs_bulk), (hl_cov, hl_id, hl_bulk)]
for i, ax in enumerate(axes):
    draw(ax, *series[i])
    ax.set_xlim(134.06, 159.5)
    ax.set_ylim(*panel_ylim[i])
    ax.set_xticks(xticks)
    ax.set_yticks(panel_yticks[i])
    ax.set_yticklabels(panel_ytick_labels[i])
    ax.tick_params(direction='in', top=True, right=True, length=7, width=1.0,
                   labelsize=24, pad=8)
    ax.grid(True, color='k', linestyle=(0, (1.2, 4)), linewidth=1.2)
    for s in ax.spines.values():
        s.set_linewidth(1.0)
        s.set_color('#222222')
    ax.set_ylabel(panel_ylabels[i], fontsize=24)
    ax.yaxis.set_label_coords(-0.058, 0.5)

axes[2].set_xlabel('Year Day (UTC)', fontsize=24)
axes[2].xaxis.set_label_coords(0.5, -0.245)

leg = axes[0].legend(loc='upper left', bbox_to_anchor=(0.0098, 0.931), borderaxespad=0,
                     fontsize=24, handlelength=2.8, handletextpad=0.35, labelspacing=0.3,
                     borderpad=0.4, numpoints=1, fancybox=False, framealpha=1)
leg.get_frame().set_edgecolor('k')
leg.get_frame().set_linewidth(1.0)

fig.text(0.5445, 0.979, 'CALNEX 2010', fontsize=24, ha='center', va='center')
for letter, day in zip(event_letters, event_days):
    axes[0].text(day, 1.04, letter, transform=axes[0].get_xaxis_transform(), fontsize=27,
                 fontweight='bold', family=['Lato', 'DejaVu Sans'], ha='center', va='center')

fig.savefig('out.png', dpi=100)
